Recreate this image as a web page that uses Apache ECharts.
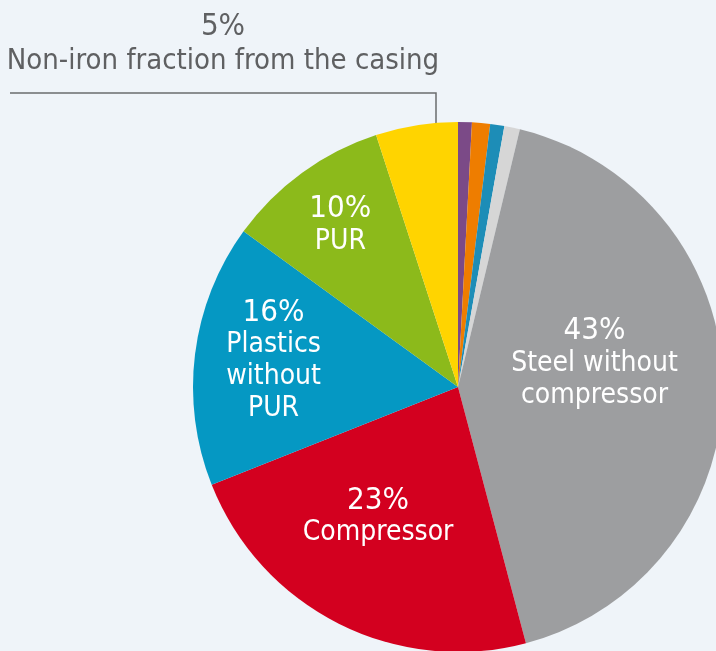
<!DOCTYPE html>
<html>
<head>
<meta charset="utf-8">
<script src="https://cdn.jsdelivr.net/npm/echarts@6/dist/echarts.min.js"></script>
<style>
  html, body { margin: 0; padding: 0; background: #eff4f9; }
  #main { width: 716px; height: 651px; }
</style>
</head>
<body>
<div id="main"></div>
<script>
// slices, clockwise from 12 o'clock
const sliceNames = ['Other 1', 'Other 2', 'Other 3', 'Other 4',
    'Steel without compressor', 'Compressor', 'Plastics without PUR', 'PUR',
    'Non-iron fraction from the casing'];
const sliceValues = [0.84, 1.1, 0.86, 0.95, 42.1, 23.1, 16.0, 10.0, 5.0];
const shownPercents = ['', '', '', '', '43%', '23%', '16%', '10%', '5%'];
const labelTexts = ['', '', '', '', 'Steel without\ncompressor', 'Compressor',
    'Plastics\nwithout\nPUR', 'PUR', 'Non-iron fraction from the casing'];
const colors = ['#7b4a87', '#ee7d00', '#1d8db7', '#d6d6d6', '#9d9ea0',
    '#d3001f', '#0598c3', '#8cba1b', '#ffd400'];

// nudge of the inside labels away from the r/2 spot
const labelShift = [[0, 0], [0, 0], [0, 0], [0, 0], [1, -22], [-19, 9], [-50, -9], [-38, -52]];

const font = '"DejaVu Sans Condensed", "Liberation Sans Narrow", sans-serif';

var myChart = echarts.init(document.getElementById('main'));

function richLabel(i) {
    let lines = labelTexts[i].split('\n').map(t => '{t|' + t + '}');
    return ['{p|' + shownPercents[i] + '}'].concat(lines).join('\n');
}

let data = sliceValues.map((v, i) => {
    let item = {
        name: sliceNames[i],
        value: v,
        itemStyle: { color: colors[i] },
        label: { show: shownPercents[i] !== '' },
        labelLine: { show: false }
    };
    if (i === 8) {
        item.label = {
            show: true,
            position: 'outside',
            color: '#5f6062',
            align: 'center',
            rich: {
                p: { fontFamily: font, fontSize: 31, lineHeight: 34, color: '#5f6062' },
                t: { fontFamily: font, fontSize: 29, lineHeight: 34, color: '#5f6062' }
            }
        };
        item.labelLine = {
            show: true,
            lineStyle: { color: '#6b6c6e', width: 1.5 }
        };
    }
    return item;
});

option = {
    backgroundColor: '#eff4f9',
    animation: false,
    series: [{
        type: 'pie',
        center: [458, 387],
        radius: 265,
        startAngle: 90,
        clockwise: true,
        avoidLabelOverlap: false,
        silent: true,
        itemStyle: { borderWidth: 0 },
        label: {
            position: 'inside',
            color: '#ffffff',
            fontFamily: font,
            align: 'center',
            formatter: (p) => richLabel(p.dataIndex),
            rich: {
                p: { fontFamily: font, fontSize: 31, lineHeight: 32, color: '#ffffff' },
                t: { fontFamily: font, fontSize: 28, lineHeight: 32, color: '#ffffff' }
            }
        },
        labelLayout: (p) => {
            if (p.dataIndex === 8) {
                return {
                    x: 223, y: 44,
                    align: 'center', verticalAlign: 'middle',
                    labelLinePoints: [[436, 193], [436, 93], [10, 93]]
                };
            }
            let s = labelShift[p.dataIndex];
            return { dx: s[0], dy: s[1] };
        },
        data: data
    }]
};
myChart.setOption(option);
</script>
</body>
</html>
